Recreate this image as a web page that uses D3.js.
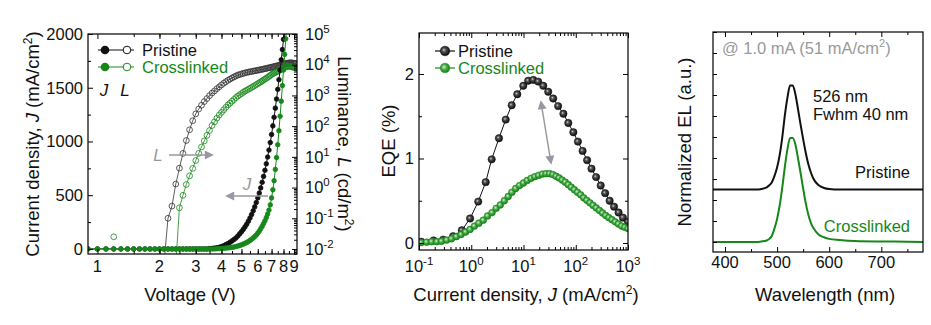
<!DOCTYPE html>
<html>
<head>
<meta charset="utf-8">
<script src="https://cdn.jsdelivr.net/npm/d3@7"></script>
<style>
  body { margin: 0; background: #fff; }
  svg { font-family: "Liberation Sans", Arial, sans-serif; }
</style>
</head>
<body>
<svg id="chart" width="931" height="325"></svg>
<script>
// ---- J-V-L data, one row = 1 V ----
const voltage = [
  0.9, 1.0, 1.1, 1.2, 1.3, 1.4, 1.5, 1.6, 1.7, 1.8,
  1.9, 2.0, 2.1, 2.2, 2.3, 2.4, 2.5, 2.6, 2.7, 2.8,
  2.9, 3.0, 3.1, 3.2, 3.3, 3.4, 3.5, 3.6, 3.7, 3.8,
  3.9, 4.0, 4.1, 4.2, 4.3, 4.4, 4.5, 4.6, 4.7, 4.8,
  4.9, 5.0, 5.1, 5.2, 5.3, 5.4, 5.5, 5.6, 5.7, 5.8,
  5.9, 6.0, 6.1, 6.2, 6.3, 6.4, 6.5, 6.6, 6.7, 6.8,
  6.9, 7.0, 7.1, 7.2, 7.3, 7.4, 7.5, 7.6, 7.7, 7.8,
  7.9, 8.0, 8.1, 8.2, 8.3, 8.4, 8.5, 8.6, 8.7, 8.8,
  8.9, 9.0, 9.1, 9.2
];
const jPristine = [
  0, 0, 0, 0, 0, 0, 0, 0, 0, 0,
  0, 0, 0, 0, 0, 0, 0, 0, 0, 0,
  0, 0, 0, 0, 0, 0, 3, 5, 8, 11,
  15, 22, 30, 40, 50, 62, 75, 88, 102, 120,
  140, 160, 182, 205, 230, 258, 288, 320, 355, 392,
  432, 475, 520, 568, 620, 675, 732, 792, 855, 920,
  990, 1065, 1145, 1225, 1310, 1395, 1485, 1575, 1665, 1760,
  1855, 1950, 2050, null, null, null, null, null, null, null,
  null, null, null, null
];
const jCrosslinked = [
  0, 0, 0, 0, 0, 0, 0, 0, 0, 0,
  0, 0, 0, 0, 0, 0, 0, 0, 0, 0,
  0, 0, 0, 0, 0, 0, 0, 0, 0, 2,
  3, 4, 6, 8, 10, 12, 15, 18, 22, 27,
  32, 38, 45, 52, 60, 69, 79, 90, 102, 115,
  130, 147, 166, 187, 210, 236, 262, 292, 325, 362,
  410, 475, 550, 635, 740, 850, 970, 1100, 1235, 1375,
  1520, 1665, 1810, 1955, 2100, null, null, null, null, null,
  null, null, null, null
];
const lPristine = [
  null, null, null, null, null, null, null, null, null, null,
  null, null, 0.003, 0.1, 0.25, 1.3, 4.3, 13, 34, 76,
  150, 250, 360, 480, 630, 790, 980, 1200, 1400, 1660,
  1900, 2200, 2500, 2800, 3100, 3400, 3700, 4000, 4300, 4600,
  4800, 5000, 5200, 5400, 5600, 5750, 5900, 6000, 6200, 6300,
  6450, 6600, 6750, 6900, 7100, 7250, 7400, 7600, 7750, 7950,
  8100, 8300, 8500, 8700, 8900, 9100, 9300, 9550, 9800, 10000,
  10200, 10500, 10700, 11000, 11200, 11200, 11500, 11500, 11500, 11500,
  11200, 11200, 11000, 10800
];
const lCrosslinked = [
  null, null, null, 0.025, null, null, null, null, null, null,
  null, null, null, null, null, 0.003, 0.22, 0.56, 1.26, 2.4,
  4.2, 7.6, 13, 21, 33, 50, 72, 105, 138, 182,
  230, 280, 340, 410, 490, 560, 650, 740, 850, 950,
  1050, 1150, 1260, 1380, 1480, 1580, 1700, 1820, 1950, 2090,
  2240, 2400, 2570, 2750, 2950, 3160, 3390, 3630, 3890, 4170,
  4470, 4790, 5130, 5370, 5620, 5890, 6170, 6460, 6760, 7080,
  7410, 7760, 8130, 8510, 8710, 8910, 8910, 8910, 8710, 8510,
  8320, 8130, 7940, 7760
];

// ---- EQE vs current density ----
const eqeJPristine = [0.11, 0.19, 0.29, 0.45, 0.66, 0.95, 1.36, 1.89, 2.46, 3.39,
  4.57, 5.94, 7.6, 9.9, 12.3, 15.4, 19.1, 23.9, 29.7, 37,
  46, 58, 72, 90, 110, 135, 165, 200, 245, 300,
  365, 445, 540, 660, 800, 1000];
const eqePristine = [0.015, 0.03, 0.04, 0.08, 0.15, 0.29, 0.49, 0.72, 0.99, 1.24,
  1.46, 1.63, 1.76, 1.86, 1.92, 1.93, 1.91, 1.86, 1.79, 1.71,
  1.62, 1.53, 1.42, 1.31, 1.2, 1.09, 0.98, 0.88, 0.78, 0.68,
  0.59, 0.5, 0.43, 0.36, 0.3, 0.25];
const eqeJCrosslinked = [0.11, 0.14, 0.175, 0.22, 0.27, 0.34, 0.42, 0.52, 0.64, 0.78,
  0.95, 1.15, 1.4, 1.7, 2.05, 2.5, 3.0, 3.6, 4.3, 5.1,
  6.0, 7.1, 8.4, 10, 11.8, 14, 16.5, 19.5, 23, 27,
  31.5, 36.5, 42, 48, 55, 63, 72, 82, 94, 108,
  124, 142, 163, 187, 215, 247, 284, 326, 375, 430,
  495, 570, 655, 755, 870, 1000];
const eqeCrosslinked = [0.005, 0.01, 0.015, 0.015, 0.02, 0.035, 0.05, 0.075, 0.1, 0.13,
  0.16, 0.2, 0.235, 0.27, 0.32, 0.36, 0.41, 0.45, 0.5, 0.55,
  0.6, 0.645, 0.68, 0.71, 0.74, 0.765, 0.785, 0.8, 0.815, 0.82,
  0.82, 0.81, 0.79, 0.77, 0.745, 0.72, 0.69, 0.66, 0.63, 0.6,
  0.57, 0.535, 0.505, 0.475, 0.445, 0.415, 0.385, 0.355, 0.325, 0.3,
  0.275, 0.25, 0.225, 0.2, 0.185, 0.17];

// ---- normalized EL spectra ----
const wavelength = [375, 400, 420, 440, 460, 470, 480, 485, 490, 495,
  500, 505, 510, 515, 520, 525, 530, 535, 540, 545,
  550, 555, 560, 565, 570, 580, 590, 600, 620, 650,
  700, 750, 785];
const elPristine = [0, 0, 0, 0, 0, 0.005, 0.02, 0.04, 0.07, 0.13,
  0.21, 0.33, 0.5, 0.71, 0.88, 0.99, 0.99, 0.91, 0.77, 0.62,
  0.48, 0.35, 0.24, 0.16, 0.1, 0.04, 0.015, 0.005, 0,
  0, 0, 0, 0];
const elCrosslinked = [0, 0, 0, 0, 0, 0.005, 0.015, 0.03, 0.06, 0.13,
  0.22, 0.35, 0.52, 0.72, 0.89, 0.99, 0.99, 0.93, 0.8, 0.66,
  0.51, 0.37, 0.26, 0.18, 0.13, 0.07, 0.045, 0.03, 0.02, 0.01,
  0.005, 0.003, 0];

const seriesNames = ["Pristine", "Crosslinked"];
const voltageTicks = [1, 2, 3, 4, 5, 6, 7, 8, 9];
const jTicks = [0, 500, 1000, 1500, 2000];
const lumExponents = [-2, -1, 0, 1, 2, 3, 4, 5];
const eqeTicks = [0, 1, 2];
const currentExponents = [-1, 0, 1, 2, 3];
const wavelengthTicks = [400, 500, 600, 700];

const black = "#111";
const green = "#16881a";
const gray = "#999";
const tickFont = 16.5;
const titleFont = 18.5;
const pristineOffset = 0.5;

const svg = d3.select("#chart");
const defs = svg.append("defs");

defs.append("marker")
  .attr("id", "arrow")
  .attr("viewBox", "0 0 10 10")
  .attr("refX", 8).attr("refY", 5)
  .attr("markerUnits", "userSpaceOnUse")
  .attr("markerWidth", 10).attr("markerHeight", 9)
  .attr("orient", "auto-start-reverse")
  .append("path").attr("d", "M0,0L10,5L0,10z").attr("fill", "#9a96a4");

const ball = (id, stops) => {
  const g = defs.append("radialGradient").attr("id", id)
    .attr("cx", "45%").attr("cy", "45%").attr("r", "60%")
    .attr("fx", "38%").attr("fy", "38%");
  stops.forEach(([o, c]) => g.append("stop").attr("offset", o).attr("stop-color", c));
};
ball("ballBlack", [["0%", "#d8d8d8"], ["30%", "#555"], ["100%", "#000"]]);
ball("ballGreen", [["0%", "#d0f0c8"], ["45%", "#4aab4a"], ["100%", "#0b720d"]]);

const clip = (id, p) => defs.append("clipPath").attr("id", id)
  .append("rect").attr("x", p.l).attr("y", p.t).attr("width", p.r - p.l).attr("height", p.b - p.t);

const frame = p => svg.append("rect")
  .attr("x", p.l).attr("y", p.t).attr("width", p.r - p.l).attr("height", p.b - p.t)
  .attr("fill", "none").attr("stroke", "#000").attr("stroke-width", 1.2);

// inward ticks, no labels
const ticks = (axisFn, scale, values, size, tx, ty) => {
  svg.append("g").attr("transform", `translate(${tx},${ty})`)
    .call(axisFn(scale).tickValues(values).tickSize(-size).tickFormat(""))
    .call(g => g.select(".domain").remove())
    .selectAll("line").attr("stroke-width", 1);
};

const logMinor = (lo, hi, dom) => {
  const out = [];
  for (let e = lo; e <= hi; e++) for (let m = 2; m <= 9; m++) {
    const v = m * Math.pow(10, e);
    if (v > dom[0] && v < dom[1]) out.push(v);
  }
  return out;
};

const powText = (sel, exp) => {
  sel.append("tspan").text("10");
  sel.append("tspan").attr("dy", -7).attr("font-size", 11.5).text(exp);
};

const txt = (x, y, s, opts = {}) => svg.append("text")
  .attr("x", x).attr("y", y).attr("font-size", opts.size || tickFont)
  .attr("text-anchor", opts.anchor || "start")
  .attr("fill", opts.fill || "#111")
  .attr("font-style", opts.italic ? "italic" : null)
  .text(s);

const rotTitle = (x, y, angle, parts) => {
  const t = svg.append("text").attr("transform", `translate(${x},${y}) rotate(${angle})`)
    .attr("text-anchor", "middle").attr("font-size", titleFont).attr("fill", "#111");
  parts.forEach(([s, style]) => {
    const sp = t.append("tspan").text(s);
    if (style === "i") sp.attr("font-style", "italic");
    if (style === "sup") sp.attr("dy", -7).attr("font-size", 12);
    if (style === "after") sp.attr("dy", 7);
  });
  return t;
};

// =============== Panel 1: J-V-L ===============
const p1 = { l: 88, t: 34, r: 297, b: 254 };
const xV = d3.scaleLog().domain([0.9, 9.3]).range([p1.l, p1.r]);
const yJ = d3.scaleLinear().domain([-47, 2000]).range([p1.b, p1.t]);
const yL = d3.scaleLog().domain([Math.pow(10, -2.163), 1e5]).range([p1.b, p1.t]);
clip("clip1", p1);

const jvRows = voltage.map((v, i) => ({
  v, jp: jPristine[i], jc: jCrosslinked[i], lp: lPristine[i], lc: lCrosslinked[i]
}));

const g1 = svg.append("g").attr("clip-path", "url(#clip1)");
const drawJV = (key, yScale, color, open) => {
  const rows = jvRows.filter(d => d[key] != null);
  g1.append("path").datum(jvRows)
    .attr("fill", "none").attr("stroke", color).attr("stroke-width", open ? 0.8 : 1)
    .attr("d", d3.line().defined(d => d[key] != null).x(d => xV(d.v)).y(d => yScale(d[key])));
  g1.append("g").selectAll("circle").data(rows).join("circle")
    .attr("cx", d => xV(d.v)).attr("cy", d => yScale(d[key]))
    .attr("r", open ? 2.9 : 2.3)
    .attr("fill", open ? "none" : color)
    .attr("stroke", color)
    .attr("stroke-width", 0.8);
};
drawJV("lp", yL, "#333", true);
drawJV("lc", yL, green, true);
drawJV("jp", yJ, black, false);
drawJV("jc", yJ, green, false);

frame(p1);
ticks(d3.axisBottom, xV, voltageTicks, 5, 0, p1.b);
ticks(d3.axisBottom, xV, d3.range(1.5, 9.3, 0.5), 3, 0, p1.b);
ticks(d3.axisTop, xV, voltageTicks, 5, 0, p1.t);
ticks(d3.axisTop, xV, d3.range(1.5, 9.3, 0.5), 3, 0, p1.t);
ticks(d3.axisLeft, yJ, jTicks, 5, p1.l, 0);
ticks(d3.axisLeft, yJ, d3.range(250, 2000, 500), 3, p1.l, 0);
ticks(d3.axisRight, yL, lumExponents.map(e => Math.pow(10, e)), 5, p1.r, 0);
ticks(d3.axisRight, yL, logMinor(-3, 4, yL.domain()), 3, p1.r, 0);

svg.append("g").selectAll("text").data(voltageTicks).join("text")
  .attr("x", d => xV(d)).attr("y", 272).attr("text-anchor", "middle")
  .attr("font-size", tickFont).attr("fill", "#111").text(d => d);
svg.append("g").selectAll("text").data(jTicks).join("text")
  .attr("x", p1.l - 5).attr("y", d => yJ(d)).attr("dy", "0.35em").attr("text-anchor", "end")
  .attr("font-size", tickFont).attr("fill", "#111").text(d => d);
svg.append("g").selectAll("text").data(lumExponents).join("text")
  .attr("x", p1.r + 8).attr("y", d => yL(Math.pow(10, d))).attr("dy", "0.35em")
  .attr("font-size", tickFont).attr("fill", "#111")
  .each(function (d) { powText(d3.select(this), d); });

// legend
const legend1 = seriesNames.map((name, i) => ({ name, color: i ? green : black, y: 50 + i * 17 }));
legend1.forEach(d => {
  svg.append("line").attr("x1", 98).attr("x2", 134).attr("y1", d.y).attr("y2", d.y)
    .attr("stroke", d.color).attr("stroke-width", 1);
  svg.append("circle").attr("cx", 105).attr("cy", d.y).attr("r", 4.3).attr("fill", d.color);
  svg.append("circle").attr("cx", 127).attr("cy", d.y).attr("r", 3.8).attr("fill", "#fff")
    .attr("stroke", d.color).attr("stroke-width", 1);
  txt(142, d.y + 6, d.name, { fill: d.color });
});
txt(104, 96, "J", { anchor: "middle", italic: true, size: 17 });
txt(125, 96, "L", { anchor: "middle", italic: true, size: 17 });

// arrows
svg.append("line").attr("x1", 169).attr("y1", 155).attr("x2", 212).attr("y2", 155)
  .attr("stroke", "#999").attr("stroke-width", 1.3).attr("marker-end", "url(#arrow)");
txt(158, 161, "L", { anchor: "middle", italic: true, size: 17, fill: gray });
svg.append("line").attr("x1", 268).attr("y1", 196).attr("x2", 227).attr("y2", 196)
  .attr("stroke", "#999").attr("stroke-width", 1.3).attr("marker-end", "url(#arrow)");
txt(247, 190, "J", { anchor: "middle", italic: true, size: 17, fill: gray });

rotTitle(39, 144, -90, [["Current density, "], ["J", "i"], [" (mA/cm"], ["2", "sup"], [")", "after"]]);
rotTitle(338, 144, 90, [["Luminance, "], ["L", "i"], [" (cd/m"], ["2", "sup"], [")", "after"]]);
txt(190, 301, "Voltage (V)", { anchor: "middle", size: titleFont });

// =============== Panel 2: EQE ===============
const p2 = { l: 419, t: 33, r: 628, b: 250 };
const xC = d3.scaleLog().domain([0.1, 1000]).range([p2.l, p2.r]);
const yE = d3.scaleLinear().domain([-0.083, 2.485]).range([p2.b, p2.t]);
clip("clip2", p2);

const g2 = svg.append("g").attr("clip-path", "url(#clip2)");
const drawEQE = (js, vals, color, grad, r) => {
  const rows = js.map((j, i) => ({ j, e: vals[i] }));
  g2.append("path").datum(rows).attr("fill", "none").attr("stroke", color).attr("stroke-width", 1)
    .attr("d", d3.line().x(d => xC(d.j)).y(d => yE(d.e)));
  g2.append("g").selectAll("circle").data(rows).join("circle")
    .attr("cx", d => xC(d.j)).attr("cy", d => yE(d.e)).attr("r", r)
    .attr("fill", `url(#${grad})`).attr("stroke", color).attr("stroke-width", 0.5);
};
drawEQE(eqeJPristine, eqePristine, black, "ballBlack", 3.7);
drawEQE(eqeJCrosslinked, eqeCrosslinked, green, "ballGreen", 3.4);

frame(p2);
const decades2 = currentExponents.map(e => Math.pow(10, e));
ticks(d3.axisBottom, xC, decades2, 5, 0, p2.b);
ticks(d3.axisBottom, xC, logMinor(-1, 2, xC.domain()), 3, 0, p2.b);
ticks(d3.axisTop, xC, decades2, 5, 0, p2.t);
ticks(d3.axisTop, xC, logMinor(-1, 2, xC.domain()), 3, 0, p2.t);
ticks(d3.axisLeft, yE, eqeTicks, 5, p2.l, 0);
ticks(d3.axisLeft, yE, [0.5, 1.5], 3, p2.l, 0);
ticks(d3.axisRight, yE, eqeTicks, 5, p2.r, 0);
ticks(d3.axisRight, yE, [0.5, 1.5], 3, p2.r, 0);

svg.append("g").selectAll("text").data(currentExponents).join("text")
  .attr("x", d => xC(Math.pow(10, d))).attr("y", 272).attr("text-anchor", "middle")
  .attr("font-size", tickFont).attr("fill", "#111")
  .each(function (d) { powText(d3.select(this), d); });
svg.append("g").selectAll("text").data(eqeTicks).join("text")
  .attr("x", p2.l - 5).attr("y", d => yE(d)).attr("dy", "0.35em").attr("text-anchor", "end")
  .attr("font-size", tickFont).attr("fill", "#111").text(d => d);

seriesNames.forEach((name, i) => {
  const y = 51 + i * 17;
  const color = i ? green : black;
  svg.append("line").attr("x1", 435).attr("x2", 455).attr("y1", y).attr("y2", y)
    .attr("stroke", color).attr("stroke-width", 1.2);
  svg.append("circle").attr("cx", 445).attr("cy", y).attr("r", 4.8)
    .attr("fill", `url(#${i ? "ballGreen" : "ballBlack"})`).attr("stroke", color).attr("stroke-width", 0.5);
  txt(458, y + 6, name, { fill: color });
});

svg.append("line").attr("x1", 541).attr("y1", 102).attr("x2", 551).attr("y2", 163)
  .attr("stroke", "#999").attr("stroke-width", 1.5)
  .attr("marker-start", "url(#arrow)").attr("marker-end", "url(#arrow)");

rotTitle(395, 141, -90, [["EQE (%)"]]);
const t2 = svg.append("text").attr("x", 526).attr("y", 301).attr("text-anchor", "middle")
  .attr("font-size", titleFont).attr("fill", "#111");
t2.append("tspan").text("Current density, ");
t2.append("tspan").attr("font-style", "italic").text("J");
t2.append("tspan").text(" (mA/cm");
t2.append("tspan").attr("dy", -7).attr("font-size", 12).text("2");
t2.append("tspan").attr("dy", 7).text(")");

// =============== Panel 3: EL spectra ===============
const p3 = { l: 713, t: 32, r: 923, b: 252 };
const xW = d3.scaleLinear().domain([377, 780]).range([p3.l, p3.r]);
const yN = d3.scaleLinear().domain([-0.095, 2.0]).range([p3.b, p3.t]);
clip("clip3", p3);

const g3 = svg.append("g").attr("clip-path", "url(#clip3)");
const drawEL = (vals, offset, color) => {
  const rows = wavelength.map((w, i) => ({ w, v: vals[i] + offset }));
  g3.append("path").datum(rows).attr("fill", "none").attr("stroke", color).attr("stroke-width", 2)
    .attr("d", d3.line().curve(d3.curveMonotoneX).x(d => xW(d.w)).y(d => yN(d.v)));
};
drawEL(elPristine, pristineOffset, black);
drawEL(elCrosslinked, 0, green);

frame(p3);
ticks(d3.axisBottom, xW, wavelengthTicks, 5, 0, p3.b);
ticks(d3.axisBottom, xW, [450, 550, 650, 750], 3, 0, p3.b);
ticks(d3.axisTop, xW, wavelengthTicks, 5, 0, p3.t);
ticks(d3.axisTop, xW, [450, 550, 650, 750], 3, 0, p3.t);
ticks(d3.axisLeft, yN, d3.range(0, 2.01, 0.2), 4, p3.l, 0);

svg.append("g").selectAll("text").data(wavelengthTicks).join("text")
  .attr("x", d => xW(d)).attr("y", 268).attr("text-anchor", "middle")
  .attr("font-size", tickFont).attr("fill", "#111").text(d => d);

const note = svg.append("text").attr("x", 722).attr("y", 54).attr("font-size", tickFont).attr("fill", gray);
note.append("tspan").text("@ 1.0 mA (51 mA/cm");
note.append("tspan").attr("dy", -7).attr("font-size", 11).text("2");
note.append("tspan").attr("dy", 7).text(")");
txt(813, 102, "526 nm");
txt(813, 120, "Fwhm 40 nm");
txt(910, 178, "Pristine", { anchor: "end" });
txt(910, 232, "Crosslinked", { anchor: "end", fill: green });

rotTitle(691, 142, -90, [["Normalized EL (a.u.)"]]);
txt(825, 301, "Wavelength (nm)", { anchor: "middle", size: titleFont });
</script>
</body>
</html>
